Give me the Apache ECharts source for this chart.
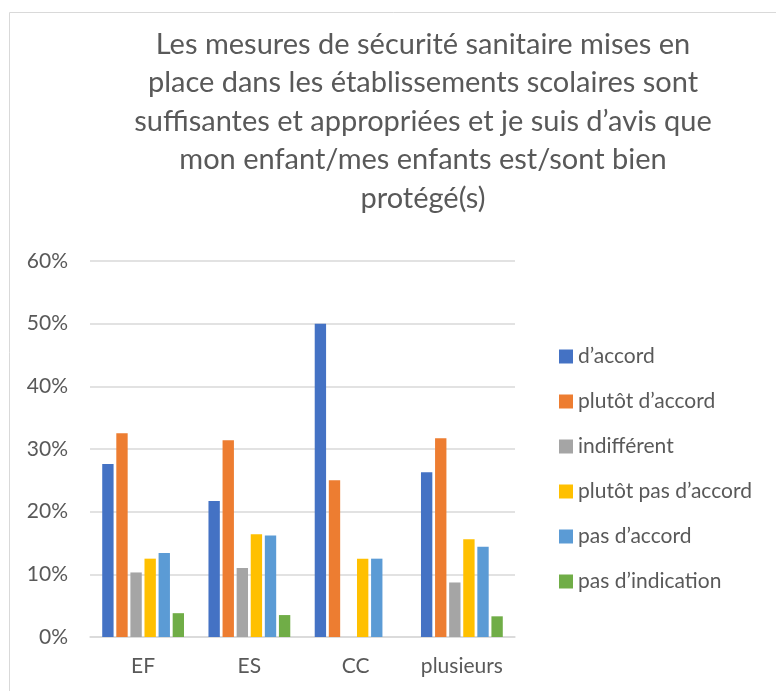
<!DOCTYPE html>
<html>
<head>
<meta charset="utf-8">
<script src="https://cdn.jsdelivr.net/npm/echarts@6/dist/echarts.min.js"></script>
<style>
	html, body { margin: 0; padding: 0; background: #fff; }
	#chart_main { width: 776px; height: 691px; }
</style>
</head>
<body>
<div id="chart_main"></div>
<script>
	var titleText = "Les mesures de sécurité sanitaire mises en\nplace dans les établissements scolaires sont\nsuffisantes et appropriées et je suis d’avis que\nmon enfant/mes enfants est/sont bien\nprotégé(s)";
	var categories = ["EF", "ES", "CC", "plusieurs"];
	var seriesNames = ["d’accord", "plutôt d’accord", "indifférent", "plutôt pas d’accord", "pas d’accord", "pas d’indication"];
	var colors = ["#4472C4", "#ED7D31", "#A5A5A5", "#FFC000", "#5B9BD5", "#70AD47"];

	// valeurs en %
	var dAccord = [27.6, 21.7, 50.0, 26.3];
	var plutotDAccord = [32.5, 31.4, 25.0, 31.7];
	var indifferent = [10.3, 11.0, 0, 8.7];
	var plutotPasDAccord = [12.5, 16.4, 12.5, 15.6];
	var pasDAccord = [13.4, 16.2, 12.5, 14.4];
	var pasDIndication = [3.8, 3.5, 0, 3.3];

	var values = [dAccord, plutotDAccord, indifferent, plutotPasDAccord, pasDAccord, pasDIndication];
	var font = "Lato";

	var series = [];
	for (var i = 0; i < seriesNames.length; i++) {
		series.push({
			name: seriesNames[i],
			type: 'bar',
			barGap: '24%',
			barCategoryGap: '23%',
			itemStyle: {
				color: colors[i]
			},
			data: values[i]
		});
	}

	var option = {
		animation: false,
		textStyle: { fontFamily: font },
		graphic: [{
			type: 'rect',
			silent: true,
			shape: { x: 9.5, y: 12.5, width: 800, height: 700 },
			style: { fill: 'none', stroke: '#D9D9D9', lineWidth: 1 }
		}],
		title: {
			text: titleText,
			left: 418,
			textAlign: 'center',
			top: 20,
			textStyle: {
				fontFamily: font,
				fontWeight: 'normal',
				fontSize: 29,
				lineHeight: 38.5,
				color: '#595959'
			}
		},
		legend: {
			orient: 'vertical',
			left: 554,
			top: 341,
			itemWidth: 14,
			itemHeight: 14,
			itemGap: 24,
			icon: 'rect',
			textStyle: {
				fontFamily: font,
				fontSize: 21,
				lineHeight: 21,
				color: '#595959'
			},
			data: seriesNames
		},
		grid: {
			left: 90,
			right: 261,
			top: 261,
			bottom: 54,
			containLabel: false
		},
		xAxis: {
			type: 'category',
			data: categories,
			axisTick: { show: false },
			axisLine: { lineStyle: { color: '#D9D9D9', width: 1.5 } },
			axisLabel: {
				interval: 0,
				fontFamily: font,
				fontSize: 21,
				color: '#595959',
				margin: 19
			}
		},
		yAxis: {
			type: 'value',
			min: 0,
			max: 60,
			interval: 10,
			axisLine: { show: false },
			axisTick: { show: false },
			splitLine: { lineStyle: { color: '#D9D9D9', width: 1.5 } },
			axisLabel: {
				fontFamily: font,
				fontSize: 21,
				color: '#595959',
				margin: 22,
				formatter: '{value}%'
			}
		},
		series: series
	};

	var myChart = echarts.init(document.getElementById('chart_main'));
	myChart.setOption(option);
</script>
</body>
</html>
